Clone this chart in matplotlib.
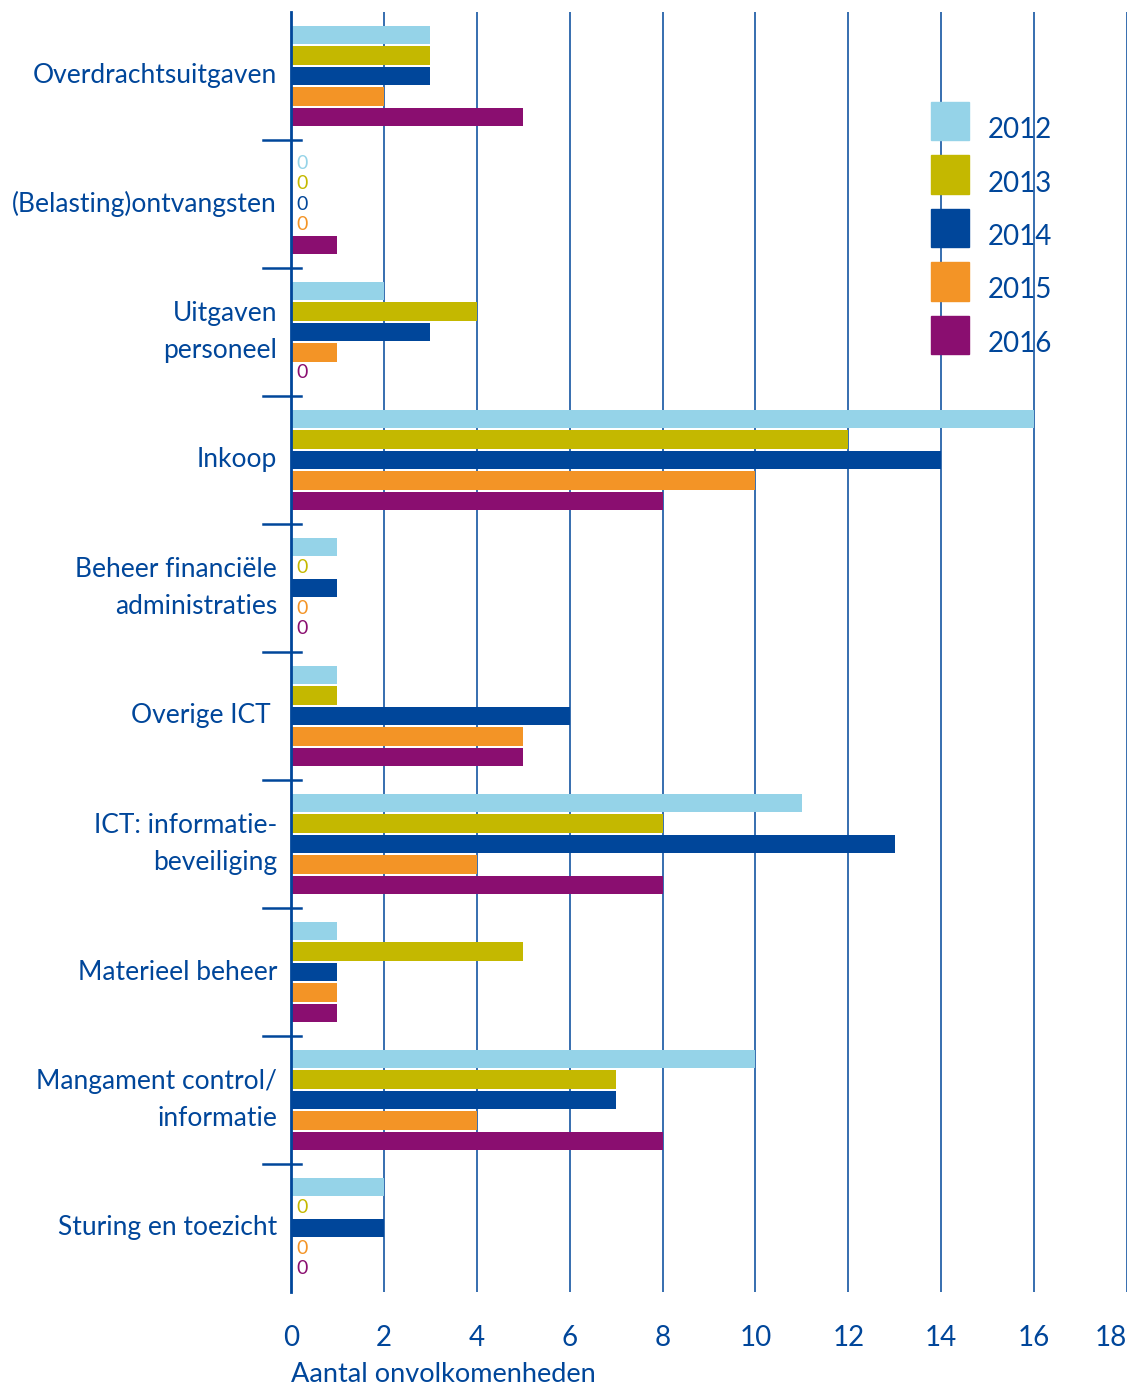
import numpy as np
import matplotlib
matplotlib.use("Agg")
import matplotlib.pyplot as plt
from matplotlib.patches import Rectangle

plt.rcParams["font.family"] = ["Lato", "DejaVu Sans"]

# ---------------------------------------------------------------------------
# data
# ---------------------------------------------------------------------------
categories = [
    "Overdrachtsuitgaven",
    "(Belasting)ontvangsten",
    "Uitgaven\npersoneel",
    "Inkoop",
    "Beheer financiële\nadministraties",
    "Overige ICT ",
    "ICT: informatie-\nbeveiliging",
    "Materieel beheer",
    "Mangament control/\ninformatie",
    "Sturing en toezicht",
]
years = ["2012", "2013", "2014", "2015", "2016"]
v2012 = [3, 0, 2, 16, 1, 1, 11, 1, 10, 2]
v2013 = [3, 0, 4, 12, 0, 1, 8, 5, 7, 0]
v2014 = [3, 0, 3, 14, 1, 6, 13, 1, 7, 2]
v2015 = [2, 0, 1, 10, 0, 5, 4, 1, 4, 0]
v2016 = [5, 1, 0, 8, 0, 5, 8, 1, 8, 0]
series = [v2012, v2013, v2014, v2015, v2016]
colors = ["#95d3e8", "#c4b800", "#00469a", "#f39426", "#8a0e70"]
xticks = [0, 2, 4, 6, 8, 10, 12, 14, 16, 18]

BLUE = "#00469a"
W, H = 1134, 1390
FS = 19

fig = plt.figure(figsize=(W / 100, H / 100), dpi=100)
ax = fig.add_axes([291 / W, 1 - 1292 / H, (1127 - 291) / W, (1292 - 12) / H])

y = np.arange(len(categories))
step, bh = 0.16, 0.142
for k, (vals, col) in enumerate(zip(series, colors)):
    pos = y + (k - 2) * step
    ax.barh(pos, vals, height=bh, color=col, zorder=3)
    for p, v in zip(pos, vals):
        if v == 0:
            ax.text(0.12, p, "0", color=col, fontsize=14, va="center",
                    ha="left", zorder=4)

ax.set_xlim(0, 18)
ax.set_ylim(len(categories) - 0.5, -0.5)
ax.set_xticks(xticks)
ax.set_xticklabels([str(t) for t in xticks])
ax.get_xticklabels()[-1].set_horizontalalignment("right")
ax.set_yticks(y)
ax.set_yticklabels(categories, ha="right", va="center", linespacing=1.6)
ax.tick_params(axis="y", length=0, pad=10, labelsize=FS, labelcolor=BLUE)
ax.tick_params(axis="x", length=0, pad=24, labelsize=FS + 1, labelcolor=BLUE)

ax.grid(axis="x", color=BLUE, lw=1.1, zorder=1)
for s in ["top", "right", "bottom"]:
    ax.spines[s].set_visible(False)
ax.spines["left"].set_color(BLUE)
ax.spines["left"].set_linewidth(2)
ax.spines["left"].set_zorder(5)

# group separators on the category axis
trans = ax.get_yaxis_transform()
for b in y[:-1] + 0.5:
    ax.plot([-28 / 836, 10 / 836], [b, b], color=BLUE, lw=1.8,
            transform=trans, clip_on=False, zorder=5)

ax.set_xlabel("Aantal onvolkomenheden", fontsize=FS + 0.5, color=BLUE,
              loc="left", labelpad=8)

# legend: square swatches with year labels set slightly low
for i, (yr, col) in enumerate(zip(years, colors)):
    top = 102 + i * 53.5
    fig.add_artist(Rectangle((931 / W, 1 - (top + 38) / H), 38 / W, 38 / H,
                             transform=fig.transFigure, color=col))
    fig.text(988 / W, 1 - (top + 28) / H, yr, fontsize=FS + 1, color=BLUE,
             ha="left", va="center")

fig.savefig("out.png", dpi=100)
